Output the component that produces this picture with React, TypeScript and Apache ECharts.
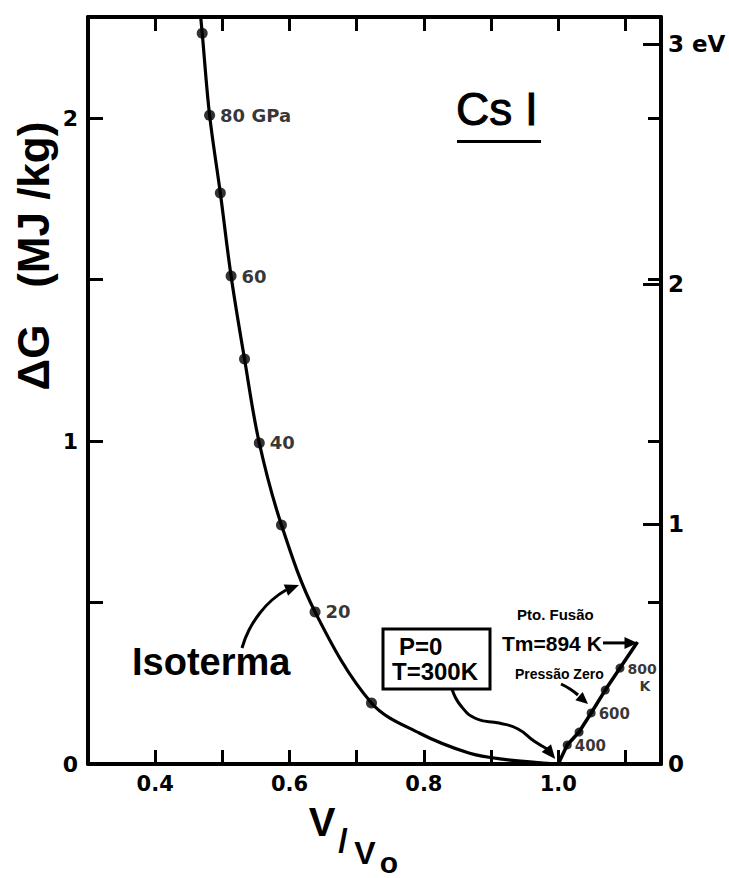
import React, { useEffect, useRef } from "react";
import * as echarts from "echarts";

// Axis ranges: V/V0 horizontally, ΔG (MJ/kg) vertically
const xMin = 0.3;
const xMax = 1.153;
const gMax = 2.313;
// 1 eV per atom for CsI (two atoms per formula unit, 259.8 g/mol), in MJ/kg
const MJ_PER_EV = 0.7428;

const xLabelTicks = [0.4, 0.6, 0.8, 1.0];
const gLabelTicks = [0, 1, 2];
const eVLabelTicks = [0, 1, 2, 3];

// 300 K isotherm, one point every 10 GPa
const isothermP = [90, 80, 70, 60, 50, 40, 30, 20, 10];
const isothermV = [0.47, 0.481, 0.497, 0.513, 0.533, 0.555, 0.588, 0.638, 0.722];
const isothermG = [2.263, 2.009, 1.768, 1.511, 1.254, 0.994, 0.74, 0.471, 0.189];
const isothermLabelled = [80, 60, 40, 20];

// isotherm beyond 90 GPa and on down to P = 0
const isothermTopV = [0.4665];
const isothermTopG = [2.34];
const isothermLowV = [0.793, 0.867, 0.917, 1.0];
const isothermLowG = [0.096, 0.034, 0.015, 0.0];

// zero-pressure isobar, 300 K up to the melting point
const isobarT = [300, 400, 500, 600, 700, 800, 894];
const isobarV = [1.0, 1.0134, 1.031, 1.049, 1.07, 1.092, 1.118];
const isobarG = [0, 0.059, 0.099, 0.158, 0.229, 0.297, 0.378];
const isobarLabelled = [400, 600, 800];

const SANS = "Liberation Sans";
const WIDE = "DejaVu Sans";

type Pt = [number, number];

function arrowHead(tip: Pt, from: Pt, len = 13, half = 5.5) {
  const dx = tip[0] - from[0];
  const dy = tip[1] - from[1];
  const d = Math.hypot(dx, dy) || 1;
  const ux = dx / d;
  const uy = dy / d;
  const bx = tip[0] - ux * len;
  const by = tip[1] - uy * len;
  return {
    type: "polygon",
    z: 20,
    shape: {
      points: [tip, [bx - uy * half, by + ux * half], [bx + uy * half, by - ux * half]],
    },
    style: { fill: "#000" },
  };
}

function curve(points: Pt[], width = 3) {
  return {
    type: "polyline",
    z: 20,
    shape: { points, smooth: 0.5 },
    style: { stroke: "#000", lineWidth: width, fill: "none" },
  };
}

function label(text: string, x: number, y: number, size: number, extra: any = {}) {
  return {
    type: "text",
    z: 20,
    x,
    y,
    style: {
      text,
      fill: "#000",
      fontFamily: SANS,
      fontWeight: "bold",
      fontSize: size,
      align: "left",
      verticalAlign: "middle",
      ...extra,
    },
  };
}

export default function App() {
  const ref = useRef<HTMLDivElement>(null);

  useEffect(() => {
    if (!ref.current) return;
    const chart = echarts.init(ref.current, null, { renderer: "svg" });

    const axisLine = { show: true, onZero: false, lineStyle: { color: "#000", width: 4 } };
    const tickStyle = { color: "#000", width: 3 };

    const isothermCurve = [
      ...isothermTopV.map((v, i) => [v, isothermTopG[i]]),
      ...isothermV.map((v, i) => [v, isothermG[i]]),
      ...isothermLowV.map((v, i) => [v, isothermLowG[i]]),
    ];
    const isothermPoints = isothermV.map((v, i) => {
      const p = isothermP[i];
      return {
        value: [v, isothermG[i]],
        label: {
          show: isothermLabelled.includes(p),
          formatter: p === 80 ? "80 GPa" : String(p),
        },
      };
    });
    const isobarCurve = isobarV.map((v, i) => [v, isobarG[i]]);
    const isobarPoints = isobarT
      .map((t, i) => ({ t, i }))
      .filter(({ t }) => t > 300 && t < 894)
      .map(({ t, i }) => ({
        value: [isobarV[i], isobarG[i]],
        label: {
          show: isobarLabelled.includes(t),
          formatter: t === 800 ? "{n|800}\n{k|K}" : String(t),
          offset: t === 800 ? [0, 9] : [0, 1],
        },
      }));

    const smallText = { fontFamily: WIDE, fontWeight: "bold", fontSize: 14, color: "#000" };

    chart.setOption({
      animation: false,
      backgroundColor: "#fff",
      grid: { left: 88, right: 68, top: 17, bottom: 114, containLabel: false },
      xAxis: [
        {
          type: "value",
          position: "bottom",
          min: xMin,
          max: xMax,
          interval: 0.1,
          axisLine,
          axisTick: { show: true, inside: true, length: 14, lineStyle: tickStyle },
          axisLabel: {
            formatter: (v: number) =>
              xLabelTicks.some((t) => Math.abs(t - v) < 1e-6) ? v.toFixed(1) : "",
            margin: 9,
            color: "#000",
            fontFamily: WIDE,
            fontWeight: "bold",
            fontSize: 21,
          },
          splitLine: { show: false },
        },
        {
          type: "value",
          position: "top",
          min: xMin,
          max: xMax,
          interval: 0.1,
          axisLine,
          axisTick: { show: true, inside: true, length: 14, lineStyle: tickStyle },
          axisLabel: { show: false },
          splitLine: { show: false },
        },
      ],
      yAxis: [
        {
          type: "value",
          position: "left",
          min: 0,
          max: gMax,
          interval: 0.5,
          axisLine,
          axisTick: { show: true, inside: true, length: 15, lineStyle: tickStyle },
          axisLabel: {
            formatter: (v: number) =>
              gLabelTicks.some((t) => Math.abs(t - v) < 1e-6) ? String(Math.round(v)) : "",
            margin: 10,
            color: "#000",
            fontFamily: WIDE,
            fontWeight: "bold",
            fontSize: 22,
          },
          splitLine: { show: false },
        },
        {
          type: "value",
          position: "right",
          min: 0,
          max: gMax / MJ_PER_EV,
          interval: 1,
          axisLine,
          axisTick: { show: true, inside: true, length: 18, lineStyle: tickStyle },
          axisLabel: {
            formatter: (v: number) => {
              const hit = eVLabelTicks.find((t) => Math.abs(t - v) < 1e-6);
              if (hit === undefined) return "";
              return hit === 3 ? "3 eV" : String(hit);
            },
            margin: 7,
            color: "#000",
            fontFamily: WIDE,
            fontWeight: "bold",
            fontSize: 23,
          },
          splitLine: { show: false },
        },
        {
          type: "value",
          position: "right",
          min: 0,
          max: gMax,
          interval: 0.5,
          axisLine: { show: false },
          axisTick: { show: true, inside: true, length: 13, lineStyle: tickStyle },
          axisLabel: { show: false },
          splitLine: { show: false },
        },
      ],
      series: [
        {
          type: "line",
          data: isothermCurve,
          smooth: 0.35,
          showSymbol: false,
          lineStyle: { color: "#000", width: 3.2 },
          z: 3,
        },
        {
          type: "scatter",
          data: isothermPoints,
          symbolSize: 11,
          itemStyle: { color: "#000" },
          z: 4,
          label: {
            position: "right",
            distance: 5,
            color: "#000",
            fontFamily: WIDE,
            fontWeight: "bold",
            fontSize: 18,
          },
        },
        {
          type: "line",
          data: isobarCurve,
          showSymbol: false,
          lineStyle: { color: "#000", width: 3.5 },
          z: 3,
        },
        {
          type: "scatter",
          data: isobarPoints,
          symbolSize: 9,
          itemStyle: { color: "#000" },
          z: 4,
          label: {
            position: "right",
            distance: 3,
            ...smallText,
            fontSize: 15,
            rich: {
              n: { ...smallText, lineHeight: 17 },
              k: { ...smallText, lineHeight: 17, padding: [0, 0, 0, 12] },
            },
          },
        },
      ],
    });

    const px = (v: number, g: number): Pt =>
      chart.convertToPixel({ xAxisIndex: 0, yAxisIndex: 0 }, [v, g]) as Pt;

    const start = px(isobarV[0], isobarG[0]);
    const melt = px(isobarV[isobarV.length - 1], isobarG[isobarG.length - 1]);
    const zeroTip: Pt = [start[0] - 3, start[1] - 5];

    const graphic: any[] = [
      // vertical axis title
      {
        type: "text",
        z: 20,
        x: 33,
        y: 256,
        rotation: Math.PI / 2,
        style: {
          text: "ΔG   (MJ /kg)",
          fill: "#000",
          fontFamily: SANS,
          fontWeight: "bold",
          fontSize: 44,
          align: "center",
          verticalAlign: "middle",
        },
      },
      // horizontal axis title V/V0
      label("V", 322, 822, 40, { align: "center" }),
      label("/", 343, 840, 34, { align: "center" }),
      label("V", 365, 853, 32, { align: "center" }),
      label("o", 389, 862, 30, { align: "center" }),
      // compound name
      label("Cs I", 456, 109, 46, { fontWeight: "normal", stroke: "#000", lineWidth: 1 }),
      { type: "rect", z: 20, shape: { x: 457, y: 140, width: 84, height: 3 }, style: { fill: "#000" } },
      // isotherm callout
      label("Isoterma", 132, 662, 38),
      curve([[242, 648], [249, 630], [260, 613], [272, 600], [286, 590]]),
      arrowHead([299, 585], [286, 590], 14, 6),
      // reference state box
      {
        type: "rect",
        z: 20,
        shape: { x: 383, y: 629, width: 107, height: 60 },
        style: { fill: "#fff", stroke: "#000", lineWidth: 3 },
      },
      label("P=0", 399, 646, 24),
      label("T=300K", 392, 671, 24),
      curve(
        [
          [452, 689],
          [461, 706],
          [477, 719],
          [499, 723],
          [518, 729],
          [534, 741],
          [zeroTip[0] - 8, zeroTip[1] - 10],
        ],
        3
      ),
      arrowHead(zeroTip, [zeroTip[0] - 9, zeroTip[1] - 11], 14, 6),
      // melting point
      label("Pto. Fusão", 517, 614, 15),
      label("Tm=894 K", 502, 643, 21),
      {
        type: "line",
        z: 20,
        shape: { x1: 603, y1: melt[1] + 1, x2: melt[0] - 10, y2: melt[1] + 1 },
        style: { stroke: "#000", lineWidth: 3 },
      },
      arrowHead([melt[0], melt[1] + 1], [melt[0] - 20, melt[1] + 1], 13, 6),
      // zero-pressure callout
      label("Pressão Zero", 515, 674, 14),
      curve([[561, 684], [570, 689], [578, 695]]),
      arrowHead([588, 704], [579, 696], 12, 5.5),
    ];

    chart.setOption({ graphic });

    return () => chart.dispose();
  }, []);

  return (
    <div
      ref={ref}
      style={{ position: "fixed", left: 0, top: 0, width: 729, height: 878, background: "#fff" }}
    />
  );
}
